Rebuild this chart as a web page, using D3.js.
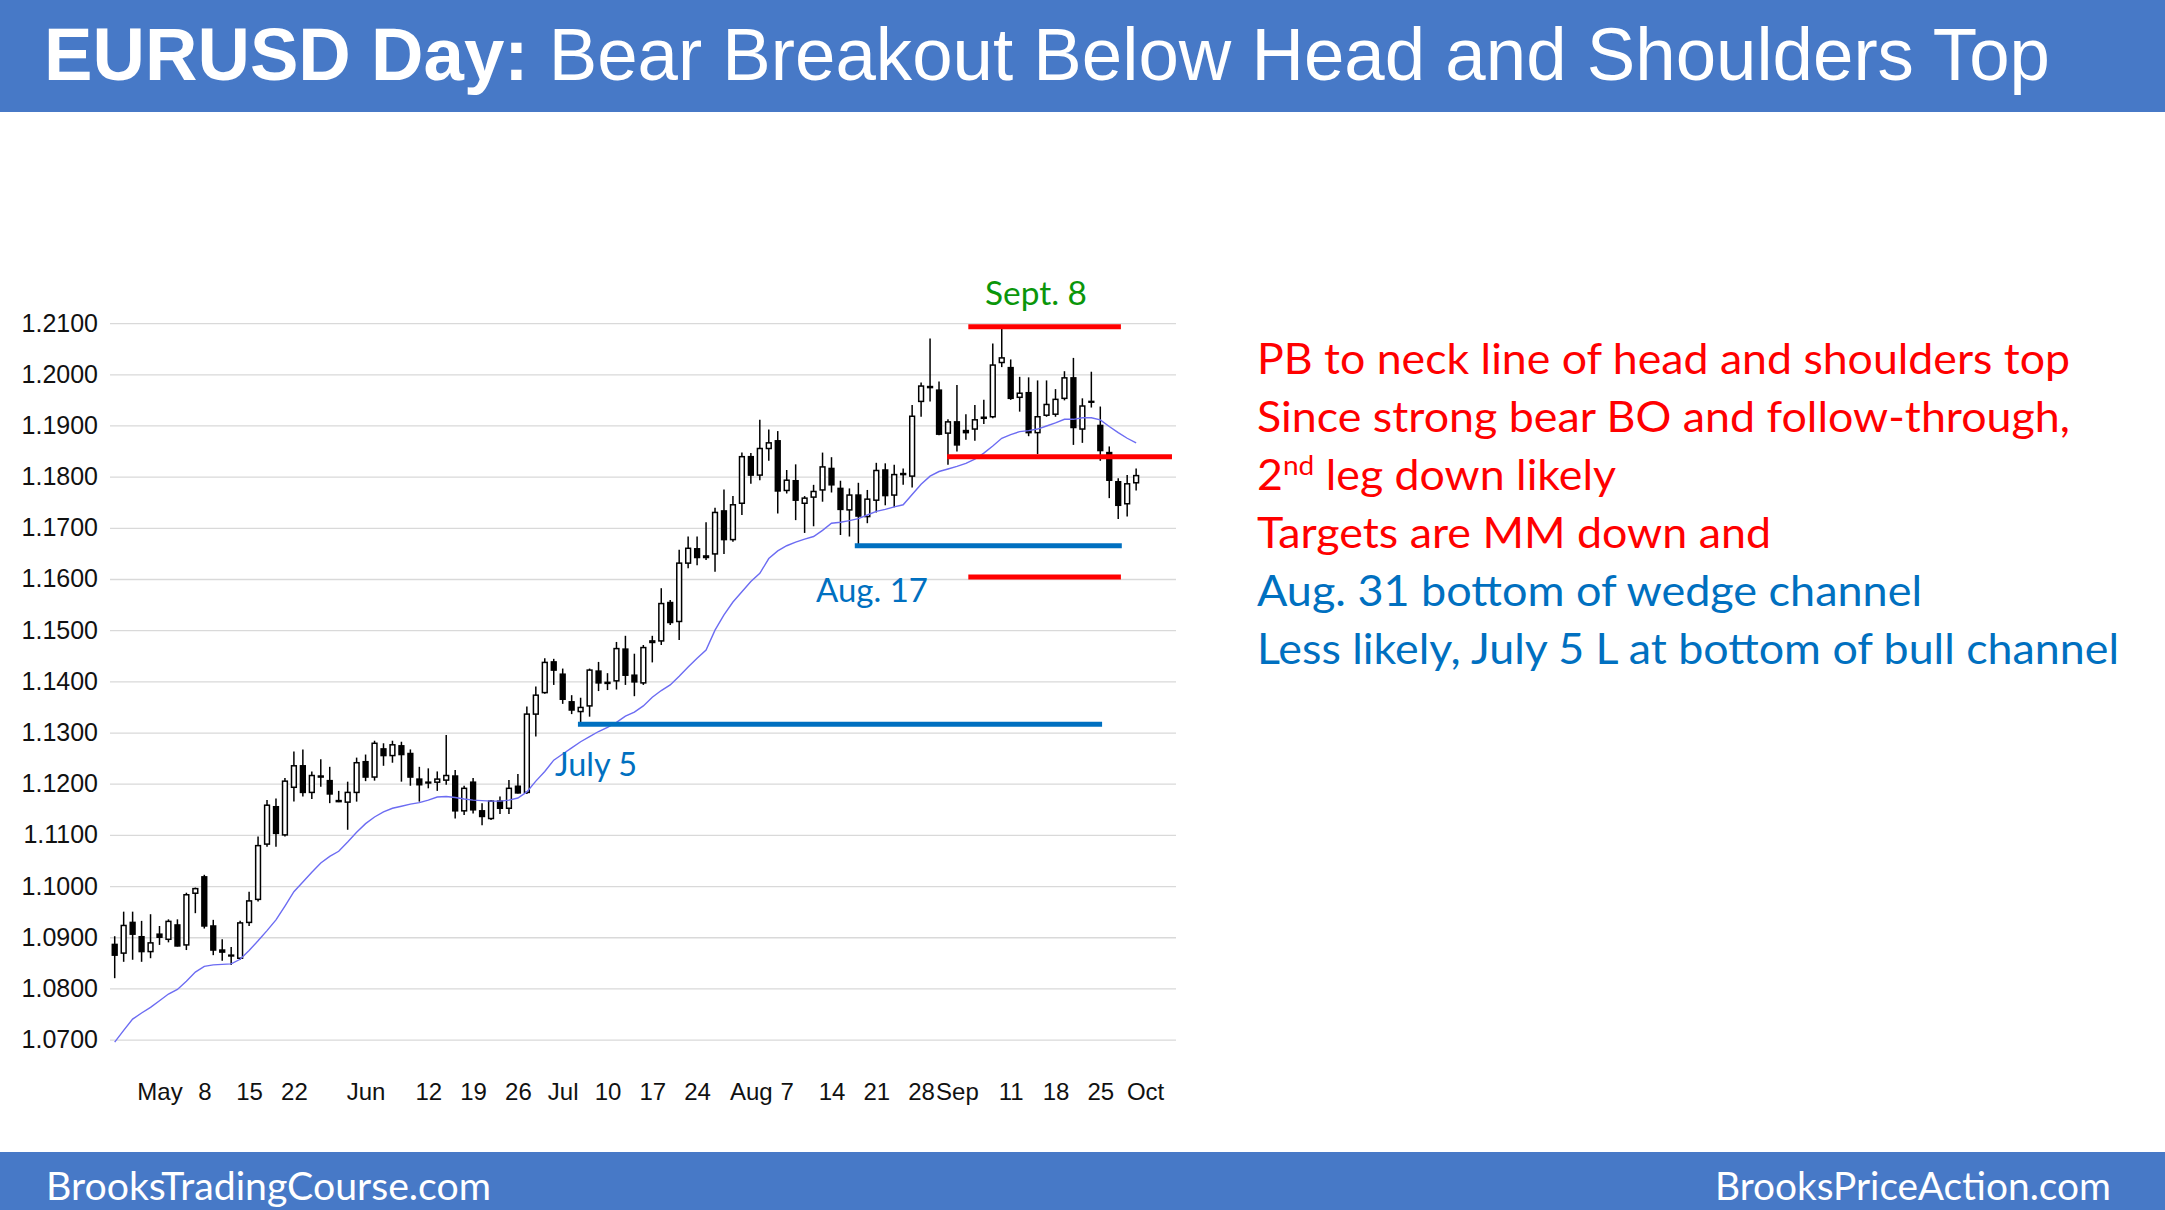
<!DOCTYPE html>
<html><head><meta charset="utf-8">
<script src="https://cdn.jsdelivr.net/npm/d3@7"></script>
<style>
html,body{margin:0;padding:0;background:#fff;}
svg{display:block;}
text{white-space:pre;}
</style></head>
<body>
<svg id="chart" width="2165" height="1210"></svg>
<script>
// ---------------- DATA ----------------
const titleBold = "EURUSD Day:";
const titleRest = " Bear Breakout Below Head and Shoulders Top";

const dates = [
 "04-24","04-25","04-26","04-27","04-28",
 "05-01","05-02","05-03","05-04","05-05","05-08","05-09","05-10","05-11","05-12","05-15","05-16","05-17","05-18","05-19","05-22","05-23","05-24","05-25","05-26","05-29","05-30","05-31",
 "06-01","06-02","06-05","06-06","06-07","06-08","06-09","06-12","06-13","06-14","06-15","06-16","06-19","06-20","06-21","06-22","06-23","06-26","06-27","06-28","06-29","06-30",
 "07-03","07-04","07-05","07-06","07-07","07-10","07-11","07-12","07-13","07-14","07-17","07-18","07-19","07-20","07-21","07-24","07-25","07-26","07-27","07-28","07-31",
 "08-01","08-02","08-03","08-04","08-07","08-08","08-09","08-10","08-11","08-14","08-15","08-16","08-17","08-18","08-21","08-22","08-23","08-24","08-25","08-28","08-29","08-30","08-31",
 "09-01","09-04","09-05","09-06","09-07","09-08","09-11","09-12","09-13","09-14","09-15","09-18","09-19","09-20","09-21","09-22","09-25","09-26","09-27","09-28","09-29"
];
const opens = [
 1.0886,1.0869,1.0929,1.0901,1.0872,
 1.0906,1.0896,1.0924,1.0885,1.0986,1.1018,1.0922,1.0875,1.0865,1.0859,1.0929,1.0974,1.1082,1.1155,1.1100,1.1193,1.1235,1.1183,1.1215,1.1206,1.1167,1.1164,1.1183,
 1.1243,1.1213,1.1268,1.1255,1.1274,1.1259,1.1209,1.1203,1.1203,1.1207,1.1215,1.1147,1.1203,1.1147,1.1132,1.1166,1.1152,1.1195,1.1183,1.1336,1.1378,1.1438,
 1.1414,1.1360,1.1341,1.1352,1.1420,1.1398,1.1401,1.1463,1.1412,1.1397,1.1476,1.1479,1.1554,1.1517,1.1631,1.1659,1.1645,1.1649,1.1733,1.1677,1.1748,
 1.1839,1.1803,1.1855,1.1870,1.1773,1.1792,1.1748,1.1760,1.1774,1.1816,1.1777,1.1735,1.1764,1.1722,1.1754,1.1813,1.1764,1.1804,1.1801,1.1947,1.1976,1.1969,1.1885,
 1.1907,1.1890,1.1893,1.1914,1.1917,1.2023,1.2013,1.1955,1.1964,1.1886,1.1920,1.1922,1.1953,1.1993,1.1893,1.1947,1.1900,1.1847,1.1790,1.1747,1.1788
];
const highs = [
 1.0902,1.0950,1.0950,1.0932,1.0945,
 1.0922,1.0935,1.0935,1.0987,1.0997,1.1022,1.0934,1.0896,1.0881,1.0932,1.0989,1.1097,1.1168,1.1171,1.1211,1.1263,1.1267,1.1224,1.1248,1.1233,1.1186,1.1204,1.1251,
 1.1257,1.1284,1.1279,1.1284,1.1282,1.1267,1.1233,1.1230,1.1224,1.1295,1.1227,1.1196,1.1211,1.1162,1.1168,1.1175,1.1207,1.1219,1.1351,1.1390,1.1445,1.1444,
 1.1425,1.1373,1.1368,1.1425,1.1438,1.1416,1.1477,1.1489,1.1454,1.1471,1.1489,1.1582,1.1559,1.1657,1.1683,1.1683,1.1711,1.1739,1.1775,1.1762,1.1847,
 1.1846,1.1911,1.1892,1.1889,1.1813,1.1824,1.1762,1.1784,1.1847,1.1838,1.1792,1.1777,1.1788,1.1774,1.1827,1.1826,1.1823,1.1816,1.1940,1.1984,1.2070,1.1986,1.1912,
 1.1979,1.1922,1.1940,1.1950,1.2060,1.2092,1.2029,1.1995,1.1994,1.1988,1.1988,1.1971,1.2006,1.2032,1.1953,1.2005,1.1937,1.1859,1.1797,1.1803,1.1816
];
const lows = [
 1.0820,1.0852,1.0856,1.0852,1.0859,
 1.0885,1.0890,1.0882,1.0875,1.0947,1.0917,1.0865,1.0854,1.0846,1.0856,1.0922,1.0970,1.1077,1.1077,1.1097,1.1165,1.1175,1.1170,1.1194,1.1162,1.1164,1.1110,1.1165,
 1.1205,1.1206,1.1235,1.1241,1.1204,1.1196,1.1165,1.1191,1.1186,1.1198,1.1132,1.1139,1.1142,1.1119,1.1129,1.1141,1.1141,1.1181,1.1180,1.1292,1.1376,1.1393,
 1.1356,1.1336,1.1313,1.1331,1.1381,1.1383,1.1384,1.1393,1.1371,1.1393,1.1437,1.1471,1.1510,1.1481,1.1621,1.1627,1.1637,1.1614,1.1649,1.1673,1.1725,
 1.1786,1.1793,1.1831,1.1728,1.1767,1.1715,1.1690,1.1703,1.1751,1.1769,1.1686,1.1683,1.1662,1.1709,1.1730,1.1744,1.1740,1.1784,1.1779,1.1917,1.1947,1.1881,1.1823,
 1.1849,1.1872,1.1870,1.1903,1.1914,1.2014,1.1950,1.1927,1.1879,1.1844,1.1917,1.1917,1.1949,1.1862,1.1866,1.1935,1.1831,1.1758,1.1717,1.1722,1.1773
];
const closes = [
 1.0865,1.0923,1.0906,1.0872,1.0889,
 1.0900,1.0931,1.0883,1.0983,1.0995,1.0922,1.0875,1.0871,1.0864,1.0928,1.0971,1.1079,1.1158,1.1103,1.1205,1.1235,1.1183,1.1216,1.1213,1.1180,1.1165,1.1183,1.1241,
 1.1213,1.1279,1.1255,1.1276,1.1257,1.1213,1.1198,1.1202,1.1209,1.1216,1.1147,1.1191,1.1149,1.1136,1.1166,1.1152,1.1191,1.1182,1.1336,1.1373,1.1437,1.1422,
 1.1365,1.1344,1.1349,1.1422,1.1397,1.1396,1.1464,1.1412,1.1399,1.1466,1.1479,1.1552,1.1515,1.1631,1.1660,1.1642,1.1642,1.1730,1.1677,1.1745,1.1839,
 1.1803,1.1855,1.1866,1.1772,1.1793,1.1754,1.1758,1.1771,1.1819,1.1784,1.1736,1.1764,1.1723,1.1756,1.1812,1.1763,1.1804,1.1806,1.1918,1.1977,1.1974,1.1883,1.1907,
 1.1862,1.1886,1.1911,1.1916,1.2018,1.2032,1.1953,1.1963,1.1886,1.1917,1.1941,1.1951,1.1993,1.1896,1.1938,1.1946,1.1851,1.1793,1.1744,1.1786,1.1802
];
const movingAvg = [
 1.0695,1.0718,1.0740,1.0752,1.0763,
 1.0776,1.0789,1.0798,1.0814,1.0832,1.0843,1.0846,1.0847,1.0848,1.0857,1.0874,1.0893,1.0913,1.0934,1.0961,1.0989,1.1008,1.1027,1.1045,1.1058,1.1068,1.1086,1.1105,
 1.1122,1.1135,1.1145,1.1152,1.1156,1.1160,1.1163,1.1168,1.1174,1.1175,1.1173,1.1170,1.1168,1.1167,1.1166,1.1166,1.1168,1.1172,1.1184,1.1205,1.1224,1.1246,
 1.1258,1.1270,1.1282,1.1292,1.1302,1.1310,1.1320,1.1332,1.1340,1.1352,1.1369,1.1382,1.1393,1.1410,1.1428,1.1445,1.1461,1.1500,1.1530,1.1555,1.1575,
 1.1595,1.1611,1.1640,1.1655,1.1665,1.1672,1.1678,1.1683,1.1695,1.1709,1.1711,1.1714,1.1718,1.1725,1.1732,1.1736,1.1741,1.1745,1.1765,1.1785,1.1801,1.1810,1.1815,
 1.1820,1.1826,1.1834,1.1846,1.1860,1.1875,1.1882,1.1888,1.1890,1.1893,1.1899,1.1905,1.1912,1.1912,1.1915,1.1915,1.1911,1.1898,1.1886,1.1875,1.1866
];
const yTicks = [1.07,1.08,1.09,1.10,1.11,1.12,1.13,1.14,1.15,1.16,1.17,1.18,1.19,1.20,1.21];
const xTickDates  = ["05-01","05-08","05-15","05-22","06-01","06-12","06-19","06-26","07-03","07-10","07-17","07-24","08-01","08-07","08-14","08-21","08-28","09-01","09-11","09-18","09-25","10-02"];
const xTickLabels = ["May","8","15","22","Jun","12","19","26","Jul","10","17","24","Aug","7","14","21","28","Sep","11","18","25","Oct"];
const extraAxisDates = ["10-02"];

// price levels drawn as horizontal lines: Sept 8 high, neck line, MM target, Aug 17 low, July 5 low
const levelPrices = [1.2093, 1.1839, 1.1604, 1.1665, 1.1316];
const levelNames  = ["Sept. 8 high","neck line","MM target","Aug. 17 low","July 5 low"];

const notes = [
 {t:"PB to neck line of head and shoulders top", c:"red"},
 {t:"Since strong bear BO and follow-through,", c:"red"},
 {t:"2|nd| leg down likely", c:"red"},
 {t:"Targets are MM down and", c:"red"},
 {t:"Aug. 31 bottom of wedge channel", c:"blue"},
 {t:"Less likely, July 5 L at bottom of bull channel", c:"blue"}
];
const footLeft = "BrooksTradingCourse.com";
const footRight = "BrooksPriceAction.com";

// ---------------- DRAW ----------------
const W = 2165, H = 1210;
const BAR = "#4779c7", RED = "#ff0000", BLUE = "#0070c0", GREEN = "#0a960a";
const ARIAL = "'Liberation Sans', Arial, sans-serif";
const CAL = "Lato, 'Open Sans', sans-serif";
const svg = d3.select("#chart");

svg.append("rect").attr("width", W).attr("height", H).attr("fill", "#fff");
svg.append("rect").attr("width", W).attr("height", 112).attr("fill", BAR);
svg.append("rect").attr("y", 1152).attr("width", W).attr("height", H - 1152).attr("fill", BAR);

// title
const tt = svg.append("text").attr("x", 44).attr("y", 80)
  .attr("fill", "#fff").attr("font-family", ARIAL).attr("font-size", 74)
  .attr("textLength", 2006).attr("lengthAdjust", "spacingAndGlyphs");
tt.append("tspan").attr("font-weight", "bold").text(titleBold);
tt.append("tspan").text(titleRest);

// scales
const axisDates = dates.concat(extraAxisDates);
const x = d3.scaleLinear().domain([0, axisDates.length - 1]).range([114.7, 1145.1]);
const y = d3.scaleLinear().domain([1.07, 1.21]).range([1039.6, 323.1]);

// y axis + gridlines
const gy = svg.append("g").attr("transform", "translate(110,0)")
  .call(d3.axisLeft(y).tickValues(yTicks).tickFormat(d3.format(".4f"))
        .tickSizeInner(-1066).tickSizeOuter(0).tickPadding(12));
gy.select(".domain").remove();
gy.selectAll(".tick line").attr("stroke", "#d9d9d9").attr("stroke-width", 1.3);
gy.selectAll(".tick text").attr("font-family", ARIAL).attr("font-size", 25).attr("fill", "#111");

// x axis
const labelByIdx = new Map(xTickDates.map((d, k) => [axisDates.indexOf(d), xTickLabels[k]]));
const gx = svg.append("g").attr("transform", "translate(0,1070)")
  .call(d3.axisBottom(x).tickValues([...labelByIdx.keys()]).tickFormat(d => labelByIdx.get(d))
        .tickSize(0).tickPadding(13));
gx.select(".domain").remove();
gx.selectAll(".tick text").attr("font-family", ARIAL).attr("font-size", 24).attr("fill", "#111");

// candles
const candles = dates.map((d, i) => ({i, o: opens[i], h: highs[i], l: lows[i], c: closes[i]}));
const cg = svg.append("g");
cg.selectAll("line").data(candles).join("line")
  .attr("x1", d => x(d.i)).attr("x2", d => x(d.i))
  .attr("y1", d => y(d.h)).attr("y2", d => y(d.l))
  .attr("stroke", "#000").attr("stroke-width", 1.5);
cg.selectAll("rect").data(candles).join("rect")
  .attr("x", d => x(d.i) - 2.4).attr("width", 4.8)
  .attr("y", d => y(Math.max(d.o, d.c)))
  .attr("height", d => Math.max(0.8, Math.abs(y(d.o) - y(d.c))))
  .attr("fill", d => d.c >= d.o ? "#fff" : "#000")
  .attr("stroke", "#000").attr("stroke-width", 1.5);

// moving average
svg.append("path").datum(movingAvg)
  .attr("d", d3.line().x((d, i) => x(i)).y(d => y(d)))
  .attr("fill", "none").attr("stroke", "#6c6cf2").attr("stroke-width", 1.4);

// level lines (span in candle-index units, colour)
const levelStyle = [
  {from: 95.27, to: 112.3, col: RED},
  {from: 92.9, to: 118.0, col: RED},
  {from: 95.27, to: 112.3, col: RED},
  {from: 82.6, to: 112.4, col: BLUE},
  {from: 51.7, to: 110.2, col: BLUE}
];
svg.append("g").selectAll("line").data(levelPrices).join("line")
  .attr("x1", (d, k) => x(levelStyle[k].from)).attr("x2", (d, k) => x(levelStyle[k].to))
  .attr("y1", d => y(d)).attr("y2", d => y(d))
  .attr("stroke", (d, k) => levelStyle[k].col).attr("stroke-width", 5);

// chart labels
function label(txt, xx, yy, col, len, anchor) {
  svg.append("text").attr("x", xx).attr("y", yy).attr("fill", col)
    .attr("font-family", CAL).attr("font-size", 32).attr("text-anchor", anchor || "start")
    .attr("textLength", len).attr("lengthAdjust", "spacingAndGlyphs").text(txt);
}
label("Sept. 8", 985, 305, GREEN, 102);
label("Aug. 17", 816, 602, BLUE, 112);
label("July 5", 555, 776, BLUE, 82);

// right-hand notes
const noteLen = [813, 813, 359, 514, 665, 862];
notes.forEach((n, k) => {
  const t = svg.append("text").attr("x", 1257).attr("y", 374 + k * 58)
    .attr("fill", n.c === "red" ? RED : BLUE)
    .attr("font-family", CAL).attr("font-size", 43)
    .attr("textLength", noteLen[k]).attr("lengthAdjust", "spacingAndGlyphs");
  const parts = n.t.split("|");
  if (parts.length === 3) {
    t.append("tspan").text(parts[0]);
    t.append("tspan").attr("font-size", 27).attr("dy", -15).text(parts[1]);
    t.append("tspan").attr("dy", 15).text(parts[2]);
  } else {
    t.text(n.t);
  }
});

// footer
svg.append("text").attr("x", 46).attr("y", 1200).attr("fill", "#fff")
  .attr("font-family", CAL).attr("font-size", 38)
  .attr("textLength", 445).attr("lengthAdjust", "spacingAndGlyphs").text(footLeft);
svg.append("text").attr("x", 1715).attr("y", 1200).attr("fill", "#fff")
  .attr("font-family", CAL).attr("font-size", 38)
  .attr("textLength", 396).attr("lengthAdjust", "spacingAndGlyphs").text(footRight);
</script>
</body></html>
